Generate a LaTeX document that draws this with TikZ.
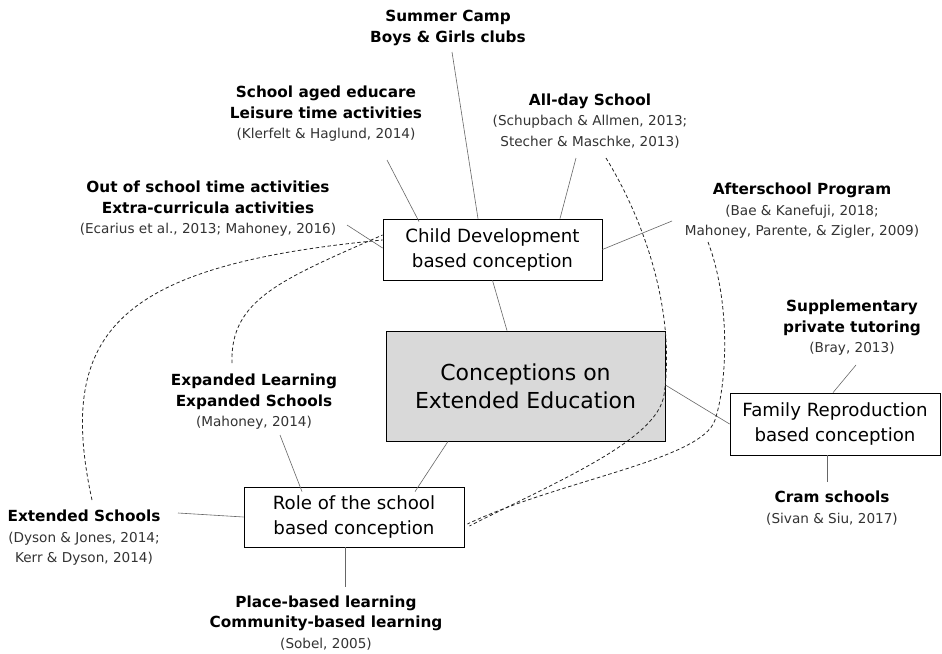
\documentclass[tikz,border=0pt]{standalone}
\usepackage{fontspec}
\setmainfont{DejaVu Sans}
\begin{document}
\begin{tikzpicture}[x=1pt,y=-1pt,
  conn/.style={draw=black!60, line width=0.6pt},
  dconn/.style={draw=black!85, line width=0.8pt, dash pattern=on 3.5pt off 2.5pt},
  concept/.style={draw=black, line width=0.8pt, fill=white, inner sep=0pt, align=center,
     font=\fontsize{18.2}{25}\selectfont},
  lab/.style={align=center, inner sep=0pt, font=\fontsize{15.3}{20.5}\selectfont\bfseries}
]
\newcommand{\ct}[1]{{\fontsize{13.6}{20.5}\selectfont\mdseries\color{black!80}#1}}
\useasboundingbox (0,0) rectangle (942,653);
\fill[white] (0,0) rectangle (942,653);

% concept boxes
\node[concept, minimum width=219pt, minimum height=61pt] (child) at (492.5,249.5) {Child Development\\based conception};
\node[concept, fill=black!15, minimum width=279pt, minimum height=110pt,
      font=\fontsize{22}{28}\selectfont] (central) at (525.5,386) {Conceptions on\\Extended Education};
\node[concept, minimum width=220pt, minimum height=60pt] (role) at (354,517) {Role of the school\\based conception};
\node[concept, minimum width=210pt, minimum height=62pt] (family) at (835,424) {Family Reproduction\\based conception};

% labels
\node[lab] (summer) at (448,28) {Summer Camp\\Boys \& Girls clubs};
\node[lab] (educare) at (326,114) {School aged educare\\Leisure time activities\\\ct{(Klerfelt \& Haglund, 2014)}};
\node[lab] (outschool) at (208,209) {Out of school time activities\\Extra-curricula activities\\\ct{(Ecarius et al., 2013; Mahoney, 2016)}};
\node[lab] (allday) at (590,121) {All-day School\\\ct{(Schupbach \& Allmen, 2013;}\\\ct{Stecher \& Maschke, 2013)}};
\node[lab] (after) at (802,211) {Afterschool Program\\\ct{(Bae \& Kanefuji, 2018;}\\\ct{Mahoney, Parente, \& Zigler, 2009)}};
\node[lab] (supp) at (852,328) {Supplementary\\private tutoring\\\ct{(Bray, 2013)}};
\node[lab] (cram) at (832,508) {Cram schools\\\ct{(Sivan \& Siu, 2017)}};
\node[lab] (expanded) at (254,402) {Expanded Learning\\Expanded Schools\\\ct{(Mahoney, 2014)}};
\node[lab] (extschools) at (84,538) {Extended Schools\\\ct{(Dyson \& Jones, 2014;}\\\ct{Kerr \& Dyson, 2014)}};
\node[lab] (place) at (326,623) {Place-based learning\\Community-based learning\\\ct{(Sobel, 2005)}};

% free ends next to the labels
\coordinate (summer-e) at (452,52);
\coordinate (educare-e) at (387,160);
\coordinate (outschool-e) at (347,225);
\coordinate (allday-e) at (576,158);
\coordinate (allday-d) at (606,158);
\coordinate (after-e) at (672,221);
\coordinate (after-d) at (708,242);
\coordinate (supp-e) at (856,365);
\coordinate (cram-e) at (827,482);
\coordinate (expanded-e) at (280,435);
\coordinate (expanded-d) at (232,363);
\coordinate (extschools-e) at (178,513);
\coordinate (extschools-d) at (92,500);
\coordinate (place-e) at (345,587);

% solid connectors
\draw[conn] (summer-e) -- ([xshift=-14.5pt]child.north);
\draw[conn] (educare-e) -- ([xshift=-73.5pt,yshift=-3pt]child.north);
\draw[conn] (outschool-e) -- ([yshift=1.5pt]child.west);
\draw[conn] (allday-e) -- ([xshift=67.5pt]child.north);
\draw[conn] (after-e) -- (child.east);
\draw[conn] (child.south) -- ([xshift=-18.5pt]central.north);
\draw[conn] ([yshift=1pt]central.east) -- (family.west);
\draw[conn] (supp-e) -- ([xshift=-2pt]family.north);
\draw[conn] ([xshift=-8pt]family.south) -- (cram-e);
\draw[conn] ([xshift=-77.5pt]central.south) -- ([xshift=61pt,yshift=-5pt]role.north);
\draw[conn] (expanded-e) -- ([xshift=-52pt,yshift=-5pt]role.north);
\draw[conn] (extschools-e) -- (role.west);
\draw[conn] ([xshift=-9pt]role.south) -- (place-e);

% dashed connectors
\draw[dconn] (extschools-d) .. controls (55,330) and (120,265) .. ([yshift=9.5pt]child.west);
\draw[dconn] (expanded-d) .. controls (230,300) and (280,280) .. ([yshift=14.5pt]child.west);
\draw[dconn] (allday-d) .. controls (650,230) and (675,320) .. (664,395)
   .. controls (657,440) and (560,480) .. ([xshift=5pt,yshift=-9pt]role.east);
\draw[dconn] (after-d) .. controls (730,300) and (728,380) .. (715,420)
   .. controls (702,460) and (560,480) .. ([xshift=3pt,yshift=-7pt]role.east);
\end{tikzpicture}
\end{document}
